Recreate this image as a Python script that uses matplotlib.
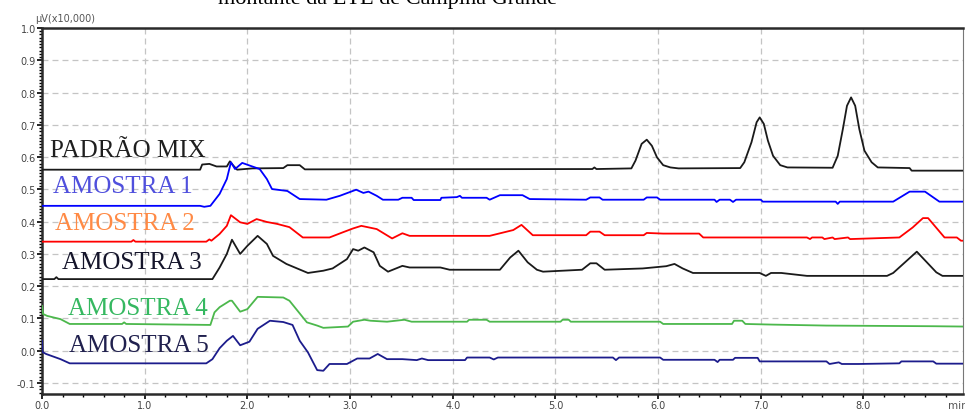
import matplotlib
matplotlib.use("Agg")
from matplotlib import pyplot as plt
from matplotlib.ticker import MultipleLocator, FormatStrFormatter

# Data (time in min, signal in uV x10,000)
mix_t = [0, 1.54, 1.56, 1.63, 1.70, 1.80, 1.83, 1.86, 1.90, 2.05, 2.35, 2.39, 2.51, 2.56, 5.36,
         5.38, 5.40, 5.74, 5.78, 5.84, 5.89, 5.94, 5.99, 6.05, 6.12, 6.20, 6.80, 6.84, 6.91, 6.96,
         6.99, 7.03, 7.07, 7.12, 7.19, 7.26, 7.70, 7.75, 7.80, 7.84, 7.88, 7.92, 7.96, 8.01, 8.08,
         8.14, 8.45, 8.47, 8.97]
mix_v = [0.561, 0.561, 0.577, 0.579, 0.571, 0.571, 0.587, 0.575, 0.561, 0.565, 0.566, 0.575, 0.575, 0.562, 0.563,
         0.568, 0.563, 0.565, 0.589, 0.641, 0.654, 0.635, 0.599, 0.575, 0.568, 0.565, 0.566, 0.584, 0.646, 0.708,
         0.723, 0.703, 0.651, 0.604, 0.575, 0.568, 0.567, 0.604, 0.687, 0.759, 0.785, 0.759, 0.687, 0.620, 0.584,
         0.568, 0.566, 0.558, 0.558]

a1_t = [0, 1.54, 1.58, 1.64, 1.73, 1.80, 1.84, 1.88, 1.95, 2.03, 2.12, 2.19, 2.24, 2.39, 2.51,
        2.77, 2.90, 3.06, 3.13, 3.18, 3.26, 3.32, 3.47, 3.51, 3.60, 3.62, 3.88, 3.89, 4.04, 4.07,
        4.09, 4.33, 4.36, 4.46, 4.68, 4.75, 5.30, 5.34, 5.43, 5.46, 5.86, 5.89, 5.99, 6.02, 6.55,
        6.57, 6.60, 6.70, 6.73, 6.76, 7.00, 7.02, 7.73, 7.75, 7.77, 8.29, 8.45, 8.60, 8.74, 8.97]
a1_v = [0.449, 0.449, 0.446, 0.449, 0.486, 0.532, 0.584, 0.563, 0.582, 0.573, 0.563, 0.532, 0.501, 0.495, 0.470,
        0.468, 0.480, 0.499, 0.489, 0.493, 0.480, 0.468, 0.468, 0.474, 0.474, 0.467, 0.467, 0.474, 0.476, 0.480,
        0.474, 0.474, 0.468, 0.482, 0.482, 0.470, 0.468, 0.475, 0.475, 0.468, 0.468, 0.475, 0.475, 0.468, 0.468,
        0.461, 0.468, 0.468, 0.461, 0.468, 0.468, 0.462, 0.462, 0.455, 0.462, 0.462, 0.493, 0.493, 0.462, 0.462]

a2_t = [0, 0.87, 0.89, 0.91, 1.60, 1.63, 1.65, 1.73, 1.80, 1.84, 1.93, 2.00, 2.09, 2.19, 2.29,
        2.41, 2.54, 2.80, 2.93, 3.03, 3.11, 3.26, 3.41, 3.51, 3.58, 4.36, 4.59, 4.67, 4.78, 5.30,
        5.34, 5.43, 5.48, 5.86, 5.89, 6.05, 6.40, 6.44, 7.45, 7.48, 7.50, 7.60, 7.62, 7.70, 7.72,
        7.85, 7.87, 8.35, 8.48, 8.58, 8.63, 8.79, 8.91, 8.95, 8.97]
a2_v = [0.338, 0.338, 0.343, 0.338, 0.338, 0.345, 0.341, 0.362, 0.387, 0.420, 0.398, 0.393, 0.408, 0.399, 0.393,
        0.383, 0.351, 0.351, 0.367, 0.379, 0.387, 0.377, 0.348, 0.364, 0.356, 0.356, 0.374, 0.390, 0.358, 0.358,
        0.369, 0.369, 0.358, 0.358, 0.365, 0.363, 0.363, 0.351, 0.351, 0.346, 0.351, 0.351, 0.346, 0.351, 0.346,
        0.351, 0.346, 0.351, 0.382, 0.411, 0.411, 0.351, 0.351, 0.341, 0.341]

a3_t = [0, 0.12, 0.14, 0.16, 1.66, 1.73, 1.80, 1.85, 1.93, 2.00, 2.10, 2.19, 2.25, 2.38, 2.59,
        2.74, 2.83, 2.97, 3.03, 3.08, 3.14, 3.23, 3.29, 3.37, 3.51, 3.58, 3.88, 3.97, 4.46, 4.56,
        4.64, 4.73, 4.82, 4.88, 5.26, 5.34, 5.40, 5.48, 5.85, 6.08, 6.16, 6.24, 6.34, 6.99, 7.05,
        7.10, 7.20, 7.45, 8.23, 8.29, 8.52, 8.71, 8.77, 8.97]
a3_v = [0.222, 0.222, 0.228, 0.222, 0.222, 0.258, 0.300, 0.344, 0.300, 0.325, 0.356, 0.331, 0.294, 0.269, 0.241,
        0.248, 0.255, 0.284, 0.315, 0.310, 0.320, 0.305, 0.263, 0.245, 0.263, 0.258, 0.258, 0.251, 0.251, 0.289,
        0.310, 0.274, 0.251, 0.245, 0.251, 0.271, 0.271, 0.251, 0.255, 0.262, 0.269, 0.255, 0.241, 0.241, 0.232,
        0.241, 0.241, 0.232, 0.232, 0.241, 0.307, 0.243, 0.232, 0.232]

a4_t = [0, 0.01, 0.05, 0.18, 0.27, 0.78, 0.80, 0.82, 1.64, 1.68, 1.73, 1.83, 1.85, 1.93, 2.00,
        2.10, 2.35, 2.41, 2.58, 2.68, 2.74, 2.98, 3.03, 3.14, 3.20, 3.36, 3.53, 3.60, 4.14, 4.16,
        4.33, 4.36, 5.05, 5.07, 5.13, 5.15, 6.02, 6.05, 6.72, 6.74, 6.82, 6.85, 7.12, 7.64, 8.68,
        8.97]
a4_v = [0.139, 0.114, 0.108, 0.098, 0.083, 0.083, 0.088, 0.083, 0.080, 0.119, 0.135, 0.155, 0.155, 0.121, 0.129,
        0.167, 0.165, 0.155, 0.088, 0.078, 0.071, 0.075, 0.090, 0.096, 0.093, 0.090, 0.096, 0.090, 0.090, 0.096,
        0.096, 0.090, 0.090, 0.096, 0.096, 0.090, 0.090, 0.083, 0.083, 0.093, 0.093, 0.083, 0.081, 0.078, 0.076,
        0.075]

a5_t = [0, 0.005, 0.04, 0.18, 0.27, 1.60, 1.66, 1.73, 1.80, 1.86, 1.93, 2.02, 2.10, 2.22, 2.35,
        2.44, 2.51, 2.59, 2.68, 2.74, 2.80, 2.97, 3.07, 3.19, 3.27, 3.36, 3.51, 3.65, 3.70, 3.76,
        4.12, 4.14, 4.36, 4.40, 4.44, 5.56, 5.59, 5.62, 6.02, 6.05, 6.55, 6.58, 6.60, 6.73, 6.75,
        6.97, 6.99, 7.64, 7.67, 7.76, 7.79, 7.95, 8.35, 8.37, 8.68, 8.71, 8.97]
a5_v = [0.031, -0.004, -0.010, -0.026, -0.039, -0.039, -0.026, 0.008, 0.031, 0.046, 0.017, 0.028, 0.068, 0.093, 0.089,
        0.080, 0.031, -0.005, -0.060, -0.062, -0.041, -0.041, -0.024, -0.024, -0.010, -0.026, -0.026, -0.029, -0.024, -0.029,
        -0.029, -0.021, -0.021, -0.027, -0.021, -0.021, -0.029, -0.021, -0.021, -0.028, -0.028, -0.035, -0.028, -0.028, -0.022,
        -0.022, -0.033, -0.033, -0.041, -0.036, -0.041, -0.041, -0.039, -0.033, -0.033, -0.040, -0.040]

names = ["PADRÃO MIX", "AMOSTRA 1", "AMOSTRA 2", "AMOSTRA 3", "AMOSTRA 4", "AMOSTRA 5"]
name_x = [0.078, 0.107, 0.127, 0.195, 0.253, 0.263]
name_y = [0.602, 0.491, 0.377, 0.255, 0.114, 0.000]

series_t = [mix_t, a1_t, a2_t, a3_t, a4_t, a5_t]
series_v = [mix_v, a1_v, a2_v, a3_v, a4_v, a5_v]
line_colors = ["#1a1a1a", "#0000ff", "#ff0000", "#1a1a1a", "#4cb84c", "#1c1c8c"]
text_colors = ["#1e1e1e", "#5050dd", "#ff8a45", "#14142a", "#35b860", "#20204e"]

# Figure
plt.rcParams['lines.scale_dashes'] = False
fig = plt.figure(figsize=(9.65, 4.14), dpi=100)
ax = fig.add_axes([42/965, 1-395/414, (963-42)/965, (395-29)/414])

for t, v, c in zip(series_t, series_v, line_colors):
    ax.plot(t, v, color=c, linewidth=1.3, zorder=3)

for n, x, y, c in zip(names, name_x, name_y, text_colors):
    ax.text(x, y, n, color=c, fontsize=18, family="Liberation Serif",
            ha="left", va="baseline", zorder=4)

ax.set_xlim(0, 8.97)
ax.set_ylim(-0.134, 1.0)
ax.xaxis.set_major_locator(MultipleLocator(1.0))
ax.xaxis.set_minor_locator(MultipleLocator(0.2))
ax.yaxis.set_major_locator(MultipleLocator(0.1))
ax.yaxis.set_minor_locator(MultipleLocator(0.01))
ax.xaxis.set_major_formatter(FormatStrFormatter('%.1f'))
ax.yaxis.set_major_formatter(FormatStrFormatter('%.1f'))

ax.grid(True, which='major', color='#c4c4c4', linestyle=(0, (4.3, 2.9)), linewidth=0.9, zorder=1)
ax.tick_params(axis='both', which='major', direction='out', length=3.5, width=1.2,
               labelsize=7, labelcolor='#444444', pad=1)
ax.tick_params(axis='both', which='minor', direction='out', length=2, width=1.0)

for side in ['left', 'top', 'bottom']:
    ax.spines[side].set_linewidth(1.8)
    ax.spines[side].set_color('#2a2a2a')
ax.spines['right'].set_linewidth(0.8)
ax.spines['right'].set_color('#777777')

# Extra labels
fig.text(35/965, 1-19/414, "µV(x10,000)", fontsize=7, color='#555555', ha='left', va='center')
fig.text(948/965, 1-406/414, "min", fontsize=7.5, color='#555555', ha='left', va='center')
fig.text(388/965, 1-4/414, "montante da ETE de Campina Grande", fontsize=16,
         family="Liberation Serif", ha='center', va='baseline')

fig.savefig('out.png', dpi=100)
